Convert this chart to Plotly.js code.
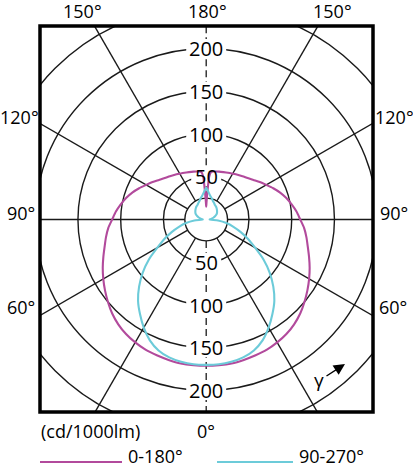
<!DOCTYPE html>
<html>
<head>
<meta charset="utf-8">
<script src="https://cdn.plot.ly/plotly-3.0.1.min.js"></script>
<style>html,body{margin:0;padding:0;background:#fff;}#chart{width:413px;height:470px;}</style>
</head>
<body>
<div id="chart"></div>
<script>
// ---- data ----
const gammaDeg = [0,5,10,15,20,25,30,35,40,45,50,55,60,65,70,75,80,85,90,95,100,105,110,115,120,125,130,135,140,145,150,155,160,165,170,174,176,177,178,179,180];
const plane0_180 = [171,171,171,170,169,168,166,163.5,160,155.5,150,144.5,139,133.5,128,123,119,115,110,106,101.5,97,92,86.5,81,76.5,72,68.5,66,63.8,61.8,60.3,59,58,57,56,50,38,28,20,15];
const plane90_270 = [170,170,169,167,163,156,146,135,124,111,97,82,66,54,43,33,24,14,4,5,7,9,11,13,14.5,15.5,16.5,17.5,18.5,19.2,20,21.5,23,25.5,28,31,33,34,35,36,37];
const ringRadii = [25,50,100,150,200,250];
const ringLabels = [50,100,150,200];
const spokeAngles = [0,30,60,90,120,150,180,210,240,270,300,330];
const angleLabels = ['180°','150°','120°','90°','60°','0°'];
const seriesNames = ['0-180°','90-270°'];
const unitLabel = '(cd/1000lm)';

// ---- geometry of the frame ----
const W = 413, H = 470, L = 40, R = 373, T = 26, B = 412;
const cx = 206.2, cy = 219.5, k = 0.855; // pixel centre and px per cd
const xr = [(L - cx) / k, (R - cx) / k];
const yr = [(cy - B) / k, (cy - T) / k];
const px = p => (p - L) / (R - L);       // pixel x -> paper
const py = p => (B - p) / (B - T);       // pixel y -> paper

const MAG = '#b24a9c', CYAN = '#6ccbd9', INK = '#1a1a1a';
const FONT = 'Open Sans, Noto Sans, sans-serif';

function curve(vals) {
  const xs = [], ys = [];
  for (let i = 0; i < gammaDeg.length; i++) {
    const g = gammaDeg[i] * Math.PI / 180;
    xs.push(vals[i] * Math.sin(g)); ys.push(-vals[i] * Math.cos(g));
  }
  for (let i = gammaDeg.length - 2; i >= 0; i--) {
    const g = gammaDeg[i] * Math.PI / 180;
    xs.push(-vals[i] * Math.sin(g)); ys.push(-vals[i] * Math.cos(g));
  }
  return {xs, ys};
}

const shapes = [];
// rings
ringRadii.forEach(r => shapes.push({type:'circle', xref:'x', yref:'y', x0:-r, x1:r, y0:-r, y1:r,
  line:{color:INK, width:1.4}, layer:'below'}));
// spokes
spokeAngles.forEach(a => {
  const g = a * Math.PI / 180, r0 = ringRadii[0], r1 = 400;
  const vertical = (a % 180 === 0);
  shapes.push({type:'line', xref:'x', yref:'y',
    x0:r0*Math.sin(g), y0:-r0*Math.cos(g), x1:r1*Math.sin(g), y1:-r1*Math.cos(g),
    line:{color:INK, width: vertical ? 1.3 : 1.4, dash: vertical ? '7px,4px' : 'solid'}, layer:'below'});
});
// white boxes behind ring labels
ringLabels.forEach(v => {
  const hw = (String(v).length === 2 ? 15 : 20) / k, hh = 9.5 / k;
  [1, -1].forEach(s => shapes.push({type:'rect', xref:'x', yref:'y',
    x0:-hw, x1:hw, y0:s*v-hh, y1:s*v+hh, fillcolor:'#fff', line:{width:0}, layer:'below'}));
});
// frame
shapes.push({type:'rect', xref:'paper', yref:'paper', x0:0, x1:1, y0:0, y1:1,
  line:{color:'#000', width:3.5}, layer:'above'});
// legend lines
shapes.push({type:'line', xref:'paper', yref:'paper', x0:px(40), x1:px(122), y0:py(462), y1:py(462),
  line:{color:MAG, width:2}});
shapes.push({type:'line', xref:'paper', yref:'paper', x0:px(217), x1:px(293), y0:py(462), y1:py(462),
  line:{color:CYAN, width:2}});

const ann = [];
const fRing = {family:FONT, size:20, color:'#000'};
const fLab = {family:FONT, size:18, color:'#000'};
ringLabels.forEach(v => {
  [1, -1].forEach(s => ann.push({xref:'x', yref:'y', x:0, y:s*v, text:String(v), showarrow:false,
    font:fRing, xanchor:'center', yanchor:'middle'}));
});
function lab(text, x, y, xa) {
  ann.push({xref:'paper', yref:'paper', x:px(x), y:py(y), text:text, showarrow:false,
    font:fLab, xanchor:xa || 'center', yanchor:'middle'});
}
lab(angleLabels[0], 207.5, 11);
lab(angleLabels[1], 82, 11); lab(angleLabels[1], 332, 11);
lab(angleLabels[2], 19, 117); lab(angleLabels[2], 394, 117);
lab(angleLabels[3], 20.5, 213); lab(angleLabels[3], 394, 213);
lab(angleLabels[4], 21, 307); lab(angleLabels[4], 393, 307);
lab(angleLabels[5], 206, 431);
lab(unitLabel, 39, 431, 'left');
lab(seriesNames[0], 126, 456, 'left');
lab(seriesNames[1], 297, 456, 'left');
// gamma arrow
ann.push({xref:'paper', yref:'paper', x:px(319), y:py(380), text:'γ', showarrow:false,
  font:{family:FONT, size:19, color:'#000'}, xanchor:'center', yanchor:'middle'});
ann.push({xref:'paper', yref:'paper', x:px(345), y:py(364), ax:-20, ay:13, text:'', showarrow:true,
  arrowhead:2, arrowsize:1.6, arrowwidth:1.4, arrowcolor:'#000'});

const m = curve(plane0_180), c = curve(plane90_270);
const traces = [
  {x:m.xs, y:m.ys, mode:'lines', line:{color:MAG, width:2.1, shape:'spline', smoothing:0.7}, name:seriesNames[0], hoverinfo:'skip'},
  {x:c.xs, y:c.ys, mode:'lines', line:{color:CYAN, width:2.1, shape:'spline', smoothing:0.7}, name:seriesNames[1], hoverinfo:'skip'}
];

const layout = {
  width:W, height:H, margin:{l:L, r:W-R, t:T, b:H-B}, showlegend:false,
  paper_bgcolor:'#fff', plot_bgcolor:'#fff',
  xaxis:{range:xr, visible:false, fixedrange:true},
  yaxis:{range:yr, visible:false, fixedrange:true},
  shapes:shapes, annotations:ann
};
Plotly.newPlot('chart', traces, layout, {staticPlot:true, displayModeBar:false});
</script>
</body>
</html>
